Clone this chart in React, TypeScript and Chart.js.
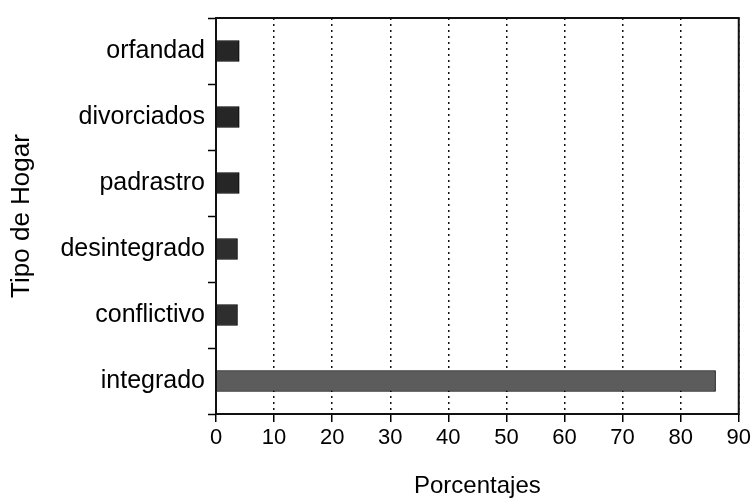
import React, { useEffect, useRef } from "react";
import { Chart, registerables } from "chart.js";

Chart.register(...registerables);

const categories = ["orfandad", "divorciados", "padrastro", "desintegrado", "conflictivo", "integrado"];
const values = [4, 4, 4, 3.7, 3.7, 86];
const barColors = ["#262626", "#262626", "#262626", "#2e2e2e", "#2e2e2e", "#5c5c5c"];
const xTickValues = [0, 10, 20, 30, 40, 50, 60, 70, 80, 90];
const xTitle = "Porcentajes";
const yTitle = "Tipo de Hogar";

const FONT = "'Liberation Sans', Arial, Helvetica, sans-serif";

const framePlugin = {
  id: "frame",
  afterDraw(chart: any) {
    const { ctx, chartArea } = chart;
    ctx.save();
    ctx.setLineDash([]);
    ctx.strokeStyle = "#111";
    ctx.lineWidth = 2;
    ctx.beginPath();
    ctx.moveTo(chartArea.left, chartArea.bottom);
    ctx.lineTo(chartArea.left, chartArea.top);
    ctx.lineTo(chartArea.right, chartArea.top);
    ctx.lineTo(chartArea.right, chartArea.bottom);
    ctx.lineTo(chartArea.left, chartArea.bottom);
    ctx.stroke();
    ctx.restore();
  },
};

export default function App() {
  const ref = useRef<HTMLCanvasElement | null>(null);
  useEffect(() => {
    if (!ref.current) return;
    const chart = new Chart(ref.current, {
      type: "bar",
      data: {
        labels: categories,
        datasets: [
          {
            data: values,
            backgroundColor: barColors,
            borderColor: "#000",
            borderWidth: 1,
            barThickness: 21,
          },
        ],
      },
      options: {
        indexAxis: "y",
        animation: false,
        responsive: true,
        maintainAspectRatio: false,
        layout: { padding: { left: 0, top: 12, right: 14, bottom: 0 } },
        plugins: { legend: { display: false }, tooltip: { enabled: false } },
        scales: {
          x: {
            type: "linear",
            min: 0,
            max: 90,
            afterBuildTicks: (scale: any) => {
              scale.ticks = xTickValues.map((v) => ({ value: v }));
            },
            afterFit: (scale: any) => {
              scale.height = 84;
            },
            border: { display: false, dash: [2, 4] },
            grid: {
              display: true,
              drawOnChartArea: true,
              drawTicks: true,
              tickLength: 8,
              color: "#111",
              lineWidth: 1.5,
              tickColor: "#000",
              tickWidth: 1.5,
              tickBorderDash: [],
            },
            ticks: {
              color: "#000",
              padding: 3,
              font: { family: FONT, size: 22 },
              maxRotation: 0,
            },
            title: {
              display: true,
              text: xTitle,
              color: "#000",
              font: { family: FONT, size: 24, lineHeight: 1 },
              padding: { top: 0, bottom: 0 },
            },
          },
          y: {
            type: "category",
            afterFit: (scale: any) => {
              scale.width = 216;
            },
            border: { display: false },
            grid: {
              display: true,
              offset: true,
              drawOnChartArea: false,
              drawTicks: true,
              tickLength: 8,
              tickColor: "#000",
              tickWidth: 1.5,
            },
            ticks: {
              color: "#000",
              padding: 3,
              font: { family: FONT, size: 25 },
            },
            title: {
              display: true,
              text: yTitle,
              color: "#000",
              font: { family: FONT, size: 26, lineHeight: 1 },
              padding: { top: 9, bottom: 0 },
            },
          },
        },
      },
      plugins: [framePlugin],
    });
    return () => chart.destroy();
  }, []);

  return (
    <div style={{ position: "fixed", left: 0, top: 0, width: 754, height: 498, background: "#fff" }}>
      <canvas ref={ref} />
    </div>
  );
}
